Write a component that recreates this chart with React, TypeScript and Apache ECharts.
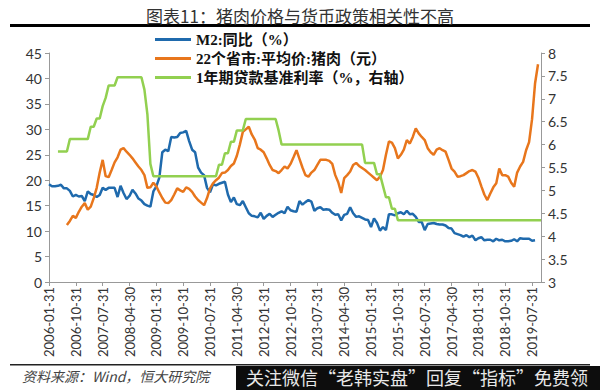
import React, { useEffect, useRef } from "react";
import * as echarts from "echarts";

const TITLE = "图表11：猪肉价格与货币政策相关性不高";
const SOURCE = "资料来源：Wind，恒大研究院";
const WATERMARK = "关注微信“老韩实盘”回复“指标”免费领";

const SERIES_NAMES = ["M2:同比（%）", "22个省市:平均价:猪肉（元）", "1年期贷款基准利率（%，右轴）"];

// monthly categories, 2006-01 .. 2019-10 (month-end dates)
const START_YEAR = 2006;
const MONTH_COUNT = 166;
const categories: string[] = [];
for (let k = 0; k < MONTH_COUNT; k++) {
  const y = START_YEAR + Math.floor(k / 12);
  const m = (k % 12) + 1;
  const last = new Date(y, m, 0).getDate();
  categories.push(`${y}-${String(m).padStart(2, "0")}-${String(last).padStart(2, "0")}`);
}

const leftTicks = [0, 45, 5];
const rightTicks = [3, 8, 0.5];

// M2 YoY (%), 2006-01 .. 2019-08
const m2: (number | null)[] = [
  19.2, 18.8, 18.8, 18.9, 19.1, 18.4, 18.4, 17.9, 16.8, 17.1, 16.8, 16.9,
  15.9, 17.8, 17.3, 17.1, 16.7, 17.1, 18.5, 18.1, 18.5, 18.5, 18.5, 16.7,
  18.9, 17.5, 16.3, 16.9, 18.1, 17.4, 16.4, 16.0, 15.3, 15.0, 14.8, 17.8,
  18.8, 20.5, 25.5, 26.0, 25.7, 28.5, 28.4, 28.5, 29.3, 29.4, 29.7, 27.7,
  26.0, 25.5, 22.5, 21.5, 21.0, 18.5, 17.6, 19.2, 19.0, 19.3, 19.5, 19.7,
  17.2, 15.7, 16.6, 15.3, 15.1, 15.9, 14.7, 13.5, 13.0, 12.9, 12.7, 13.6,
  12.4, 13.0, 13.4, 12.8, 13.2, 13.6, 13.9, 13.5, 14.8, 14.1, 13.9, 13.8,
  15.9, 15.2, 15.7, 16.1, 15.8, 14.0, 14.5, 14.7, 14.2, 14.3, 14.2, 13.6,
  13.2, 13.3, 12.1, 13.2, 13.4, 14.7, 13.5, 12.8, 12.9, 12.6, 12.3, 12.2,
  10.8, 12.5, 11.6, 10.1, 10.8, 10.2, 13.3, 13.3, 13.1, 13.5, 13.7, 13.3,
  14.0, 13.3, 13.4, 12.8, 11.8, 11.8, 10.2, 11.4, 11.5, 11.6, 11.4, 11.3,
  11.3, 11.1, 10.6, 10.5, 9.6, 9.4, 9.2, 8.9, 9.2, 8.8, 9.1, 8.2,
  8.6, 8.8, 8.2, 8.3, 8.3, 8.0, 8.5, 8.2, 8.3, 8.0, 8.0, 8.1,
  8.4, 8.0, 8.6, 8.5, 8.5, 8.5, 8.1, 8.2, null, null,
];

// 22 provinces average pork price (yuan/kg), 2006-01 .. 2019-10
const pork: (number | null)[] = [
  null, null, null, null, null, null, 11.2, 12.0, 13.0, 12.6, 13.8, 14.8,
  15.5, 14.2, 14.8, 16.5, 18.5, 21.5, 24.0, 20.8, 20.6, 22.0, 23.5, 24.5,
  26.0, 26.3, 25.6, 25.0, 24.3, 23.5, 22.7, 22.0, 21.0, 18.5, 18.6, 19.5,
  18.8, 17.6, 16.5, 15.6, 15.5, 16.1, 17.2, 18.4, 18.0, 17.7, 18.6, 18.3,
  17.7, 16.8, 16.1, 15.6, 15.1, 16.5, 18.4, 19.4, 20.0, 20.5, 21.4, 21.5,
  22.0, 22.8, 23.3, 24.8, 27.0, 29.5, 30.0, 30.5, 29.0, 28.0, 26.3, 26.0,
  25.5, 24.3, 23.0, 22.0, 21.8, 21.4, 22.0, 22.7, 22.3, 23.2, 24.5, 25.9,
  24.2, 22.5, 21.0, 20.7, 21.5, 22.0, 23.0, 24.0, 24.0, 24.0, 23.8, 23.2,
  21.0, 19.6, 17.5, 20.4, 21.0, 21.7, 23.0, 23.4, 22.8, 22.4, 22.0, 21.5,
  21.0, 20.5, 20.0, 20.7, 22.0, 25.0, 27.6, 27.4, 26.3, 24.3, 25.0, 26.0,
  27.9, 27.2, 28.5, 30.2, 29.2, 28.5, 27.9, 26.3, 25.5, 25.0, 26.0, 26.3,
  25.9, 25.6, 24.0, 22.3, 21.7, 20.7, 20.8, 21.0, 21.4, 21.8, 22.0, 21.7,
  20.5, 18.8, 17.2, 16.1, 17.4, 18.6, 19.4, 22.3, 21.0, 21.0, 20.7, 19.5,
  18.7, 21.5, 22.7, 23.6, 25.9, 27.5, 32.0, 39.0, 42.8, null,
];

// 1-year benchmark lending rate (%), 2006-01 .. 2019-10
const loanRate: (number | null)[] = [
  null, null, null, 5.85, 5.85, 5.85, 5.85, 6.12, 6.12, 6.12, 6.12, 6.12,
  6.12, 6.12, 6.39, 6.39, 6.57, 6.57, 6.84, 7.02, 7.29, 7.29, 7.29, 7.47,
  7.47, 7.47, 7.47, 7.47, 7.47, 7.47, 7.47, 7.47, 7.20, 6.66, 5.58, 5.31,
  5.31, 5.31, 5.31, 5.31, 5.31, 5.31, 5.31, 5.31, 5.31, 5.31, 5.31, 5.31,
  5.31, 5.31, 5.31, 5.31, 5.31, 5.31, 5.31, 5.31, 5.31, 5.56, 5.56, 5.81,
  5.81, 6.06, 6.06, 6.31, 6.31, 6.31, 6.56, 6.56, 6.56, 6.56, 6.56, 6.56,
  6.56, 6.56, 6.56, 6.56, 6.56, 6.31, 6.00, 6.00, 6.00, 6.00, 6.00, 6.00,
  6.00, 6.00, 6.00, 6.00, 6.00, 6.00, 6.00, 6.00, 6.00, 6.00, 6.00, 6.00,
  6.00, 6.00, 6.00, 6.00, 6.00, 6.00, 6.00, 6.00, 6.00, 6.00, 5.60, 5.60,
  5.60, 5.60, 5.35, 5.35, 5.10, 4.85, 4.85, 4.60, 4.60, 4.35, 4.35, 4.35,
  4.35, 4.35, 4.35, 4.35, 4.35, 4.35, 4.35, 4.35, 4.35, 4.35, 4.35, 4.35,
  4.35, 4.35, 4.35, 4.35, 4.35, 4.35, 4.35, 4.35, 4.35, 4.35, 4.35, 4.35,
  4.35, 4.35, 4.35, 4.35, 4.35, 4.35, 4.35, 4.35, 4.35, 4.35, 4.35, 4.35,
  4.35, 4.35, 4.35, 4.35, 4.35, 4.35, 4.35, 4.35, 4.35, 4.35,
];

const COLORS = ["#1f6aad", "#e8761c", "#92d050"];

export default function App() {
  const ref = useRef<HTMLDivElement>(null);
  useEffect(() => {
    if (!ref.current) return;
    const chart = echarts.init(ref.current, null, { renderer: "svg" });
    const axisFont = "Lato, 'Open Sans', sans-serif";
    chart.setOption({
      animation: false,
      backgroundColor: "#ffffff",
      title: {
        text: TITLE,
        left: "center",
        top: 2,
        textStyle: { fontSize: 17, fontWeight: "normal", color: "#333", fontFamily: "'Noto Sans CJK SC', sans-serif" },
      },
      legend: {
        orient: "vertical",
        left: 150,
        top: 27,
        itemWidth: 36,
        itemHeight: 3,
        itemGap: 4,
        icon: "rect",
        data: SERIES_NAMES,
        textStyle: { fontSize: 15, fontWeight: "bold", color: "#111", fontFamily: "'Liberation Serif', 'Noto Sans CJK SC', serif" },
      },
      grid: { left: 49, right: 59, top: 53, bottom: 108, containLabel: false },
      xAxis: {
        type: "category",
        data: categories,
        boundaryGap: false,
        axisLine: { lineStyle: { color: "#999" } },
        axisTick: { interval: 8, length: 4, lineStyle: { color: "#999" } },
        axisLabel: { interval: 8, rotate: 90, fontSize: 13, color: "#333", margin: 5, fontFamily: axisFont },
        splitLine: { show: false },
      },
      yAxis: [
        {
          type: "value",
          min: leftTicks[0],
          max: leftTicks[1],
          interval: leftTicks[2],
          axisLine: { show: true, lineStyle: { color: "#999" } },
          axisTick: { show: true, length: 4, lineStyle: { color: "#999" } },
          axisLabel: { fontSize: 14, color: "#333", margin: 7, fontFamily: axisFont },
          splitLine: { show: false },
        },
        {
          type: "value",
          position: "right",
          min: rightTicks[0],
          max: rightTicks[1],
          interval: rightTicks[2],
          axisLine: { show: true, lineStyle: { color: "#999" } },
          axisTick: { show: true, length: 4, lineStyle: { color: "#999" } },
          axisLabel: { fontSize: 14, color: "#333", margin: 7, fontFamily: axisFont },
          splitLine: { show: false },
        },
      ],
      series: [
        { name: SERIES_NAMES[0], type: "line", data: m2, yAxisIndex: 0, symbol: "none", color: COLORS[0], lineStyle: { width: 2.5, color: COLORS[0] } },
        { name: SERIES_NAMES[1], type: "line", data: pork, yAxisIndex: 0, symbol: "none", color: COLORS[1], lineStyle: { width: 2.5, color: COLORS[1] } },
        { name: SERIES_NAMES[2], type: "line", data: loanRate, yAxisIndex: 1, symbol: "none", color: COLORS[2], lineStyle: { width: 2.5, color: COLORS[2] } },
      ],
      graphic: [
        { type: "rect", left: 10, top: 24, shape: { width: 580, height: 3 }, style: { fill: "#000" } },
        { type: "rect", left: 10, top: 364, shape: { width: 580, height: 1.5 }, style: { fill: "#222" } },
        {
          type: "text",
          left: 22,
          top: 369,
          style: { text: SOURCE, fontSize: 14, fontStyle: "italic", fill: "#444", fontFamily: "'Noto Sans CJK SC', serif" },
        },
        { type: "rect", left: 236, top: 366, shape: { width: 364, height: 24 }, style: { fill: "#0d0d0d" } },
        {
          type: "text",
          left: 246,
          top: 368,
          style: { text: WATERMARK, fontSize: 18, fill: "#e8e8e8", fontFamily: "'Noto Sans CJK SC', sans-serif" },
        },
      ],
    });
    return () => chart.dispose();
  }, []);
  return <div ref={ref} style={{ width: 600, height: 390, position: "absolute", left: 0, top: 0 }} />;
}
